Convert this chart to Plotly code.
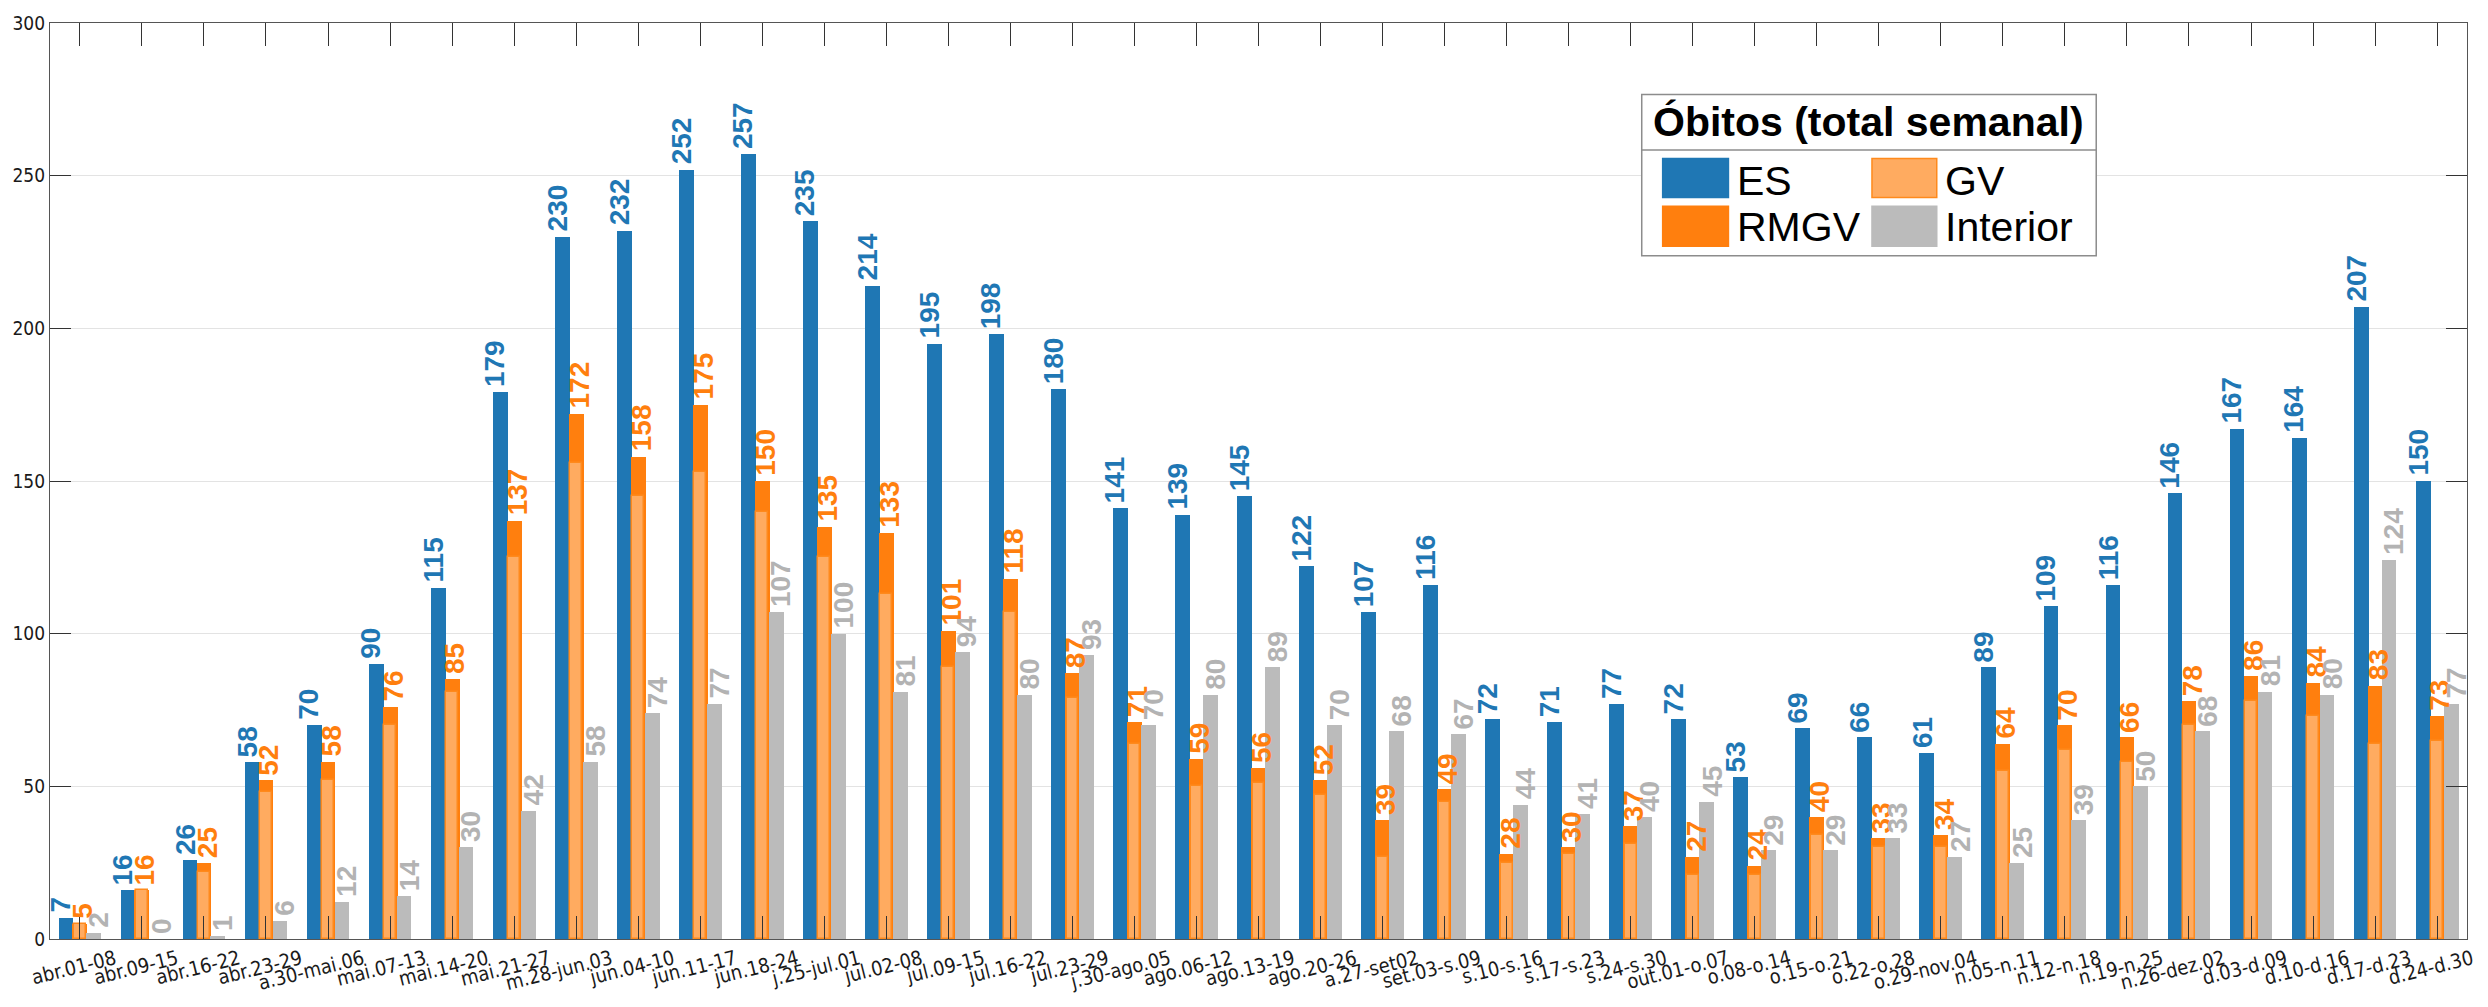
import plotly.graph_objects as go

categories = ["abr.01-08", "abr.09-15", "abr.16-22", "abr.23-29", "a.30-mai.06", "mai.07-13",
              "mai.14-20", "mai.21-27", "m.28-jun.03", "jun.04-10", "jun.11-17", "jun.18-24",
              "j.25-jul.01", "jul.02-08", "jul.09-15", "jul.16-22", "jul.23-29", "j.30-ago.05",
              "ago.06-12", "ago.13-19", "ago.20-26", "a.27-set02", "set.03-s.09", "s.10-s.16",
              "s.17-s.23", "s.24-s.30", "out.01-o.07", "o.08-o.14", "o.15-o.21", "o.22-o.28",
              "o.29-nov.04", "n.05-n.11", "n.12-n.18", "n.19-n.25", "n.26-dez.02", "d.03-d.09",
              "d.10-d.16", "d.17-d.23", "d.24-d.30"]

es = [7, 16, 26, 58, 70, 90, 115, 179, 230, 232, 252, 257, 235, 214, 195, 198, 180, 141, 139, 145,
      122, 107, 116, 72, 71, 77, 72, 53, 69, 66, 61, 89, 109, 116, 146, 167, 164, 207, 150]
rmgv = [5, 16, 25, 52, 58, 76, 85, 137, 172, 158, 175, 150, 135, 133, 101, 118, 87, 71, 59, 56,
        52, 39, 49, 28, 30, 37, 27, 24, 40, 33, 34, 64, 70, 66, 78, 86, 84, 83, 73]
gv = [5, 16, 22, 48, 52, 70, 81, 125, 156, 145, 153, 140, 125, 113, 89, 107, 79, 64, 50, 51,
      47, 27, 45, 25, 28, 31, 21, 21, 34, 30, 30, 55, 62, 58, 70, 78, 73, 64, 65]
interior = [2, 0, 1, 6, 12, 14, 30, 42, 58, 74, 77, 107, 100, 81, 94, 80, 93, 70, 80, 89,
            70, 68, 67, 44, 41, 40, 45, 29, 29, 33, 27, 25, 39, 50, 68, 81, 80, 124, 77]

series_names = ["ES", "RMGV", "GV", "Interior"]
legend_title = "Óbitos (total semanal)"
y_ticks = [0, 50, 100, 150, 200, 250, 300]

C_BLUE = "#1f77b4"
C_ORANGE = "#ff7f0e"
C_LIGHT = "#ffab60"
C_LIGHT_EDGE = "#ff8a1c"
C_GRAY = "#bbbbbb"
C_GRAY_TXT = "#b3b3b3"

SANS = "Liberation Sans, Arial, sans-serif"
NARROW = "Liberation Sans Narrow, Arial Narrow, DejaVu Sans Condensed, Liberation Sans, sans-serif"

W, H = 2488, 1007
L, R, T, B = 44, 19, 17, 30
PW, PH = W - L - R, H - T - B

fig = go.Figure()
fig.add_trace(go.Bar(x=categories, y=es, name=series_names[0], width=0.24, offset=-0.345,
                     marker=dict(color=C_BLUE, line=dict(width=0)), opacity=1, showlegend=False))
fig.add_trace(go.Bar(x=categories, y=rmgv, name=series_names[1], width=0.24, offset=-0.12,
                     marker=dict(color=C_ORANGE, line=dict(width=0)), opacity=1, showlegend=False))
fig.add_trace(go.Bar(x=categories, y=gv, name=series_names[2], width=0.19, offset=-0.095,
                     marker=dict(color=C_LIGHT, line=dict(width=1.5, color=C_LIGHT_EDGE)), opacity=1,
                     showlegend=False))
fig.add_trace(go.Bar(x=categories, y=interior, name=series_names[3], width=0.24, offset=0.105,
                     marker=dict(color=C_GRAY, line=dict(width=0)), opacity=1, showlegend=False))

annotations = []
lab_font = dict(family=SANS, size=28, weight="bold")
for vals, col, xs in [(es, C_BLUE, -19), (rmgv, C_ORANGE, 3), (interior, C_GRAY_TXT, 19)]:
    for c, v in zip(categories, vals):
        annotations.append(dict(x=c, y=v, xref="x", yref="y", text=str(v), showarrow=False,
                                textangle=-90, xanchor="center", yanchor="bottom",
                                xshift=xs, yshift=3, font=dict(lab_font, color=col)))


def px(x):
    return (x - L) / PW


def py(y):
    return (H - B - y) / PH


# legend box (manual, two columns)
shapes = []
shapes.append(dict(type="rect", xref="paper", yref="paper", x0=px(1641), x1=px(2097), y0=py(261), y1=py(92),
                   fillcolor="white", line=dict(color="#8c8c8c", width=1.5), layer="above"))
shapes.append(dict(type="line", xref="paper", yref="paper", x0=px(1641), x1=px(2097), y0=py(150), y1=py(150),
                   line=dict(color="#8c8c8c", width=1.5), layer="above"))
swatches = [
    (series_names[0], 1662, 1728, 159, 200, C_BLUE, C_BLUE, 1735, 183),
    (series_names[1], 1662, 1728, 209, 251, C_ORANGE, C_ORANGE, 1735, 231),
    (series_names[2], 1872, 1937, 159, 200, C_LIGHT, C_LIGHT_EDGE, 1943, 183),
    (series_names[3], 1872, 1937, 209, 251, C_GRAY, C_GRAY, 1943, 231),
]
for name, x0, x1, y0, y1, fc, lc, tx, ty in swatches:
    shapes.append(dict(type="rect", xref="paper", yref="paper", x0=px(x0), x1=px(x1), y0=py(y1), y1=py(y0),
                       fillcolor=fc, line=dict(color=lc, width=1.5), layer="above"))
    annotations.append(dict(x=px(tx), y=py(ty), xref="paper", yref="paper", text=name, showarrow=False,
                            xanchor="left", yanchor="middle",
                            font=dict(family=SANS, size=41, color="black")))
annotations.append(dict(x=px(1869), y=py(121), xref="paper", yref="paper", text=legend_title, showarrow=False,
                        xanchor="center", yanchor="middle",
                        font=dict(family=SANS, size=41, color="black", weight="bold")))

fig.update_layout(
    width=W, height=H, margin=dict(l=L, r=R, t=T, b=B),
    barmode="overlay", bargap=0,
    paper_bgcolor="white", plot_bgcolor="white",
    showlegend=False,
    annotations=annotations, shapes=shapes,
    font=dict(family=SANS, color="#1a1a1a"),
)
fig.update_xaxes(
    type="category", range=[-0.482, 38.482], tickmode="array", tickvals=categories, ticktext=categories,
    tickangle=-14, ticks="inside", ticklen=23, tickwidth=1.2, tickcolor="#333333",
    showline=True, linecolor="#555555", linewidth=1.2, mirror="ticks",
    showgrid=False, tickfont=dict(family=NARROW, size=20, color="#1a1a1a"), ticklabelshift=35,
)
fig.update_yaxes(
    range=[0, 300], tickmode="array", tickvals=y_ticks, ticks="inside", ticklen=21, tickwidth=1.2,
    tickcolor="#333333", showline=True, linecolor="#555555", linewidth=1.2, mirror="ticks",
    showgrid=True, gridcolor="#e3e3e3", gridwidth=1.2, zeroline=False,
    tickfont=dict(family=NARROW, size=19, color="#1a1a1a"),
)

fig.write_html("out.html", config={"displayModeBar": False},
               post_script="document.body.style.margin='0';document.body.style.overflow='hidden';")
